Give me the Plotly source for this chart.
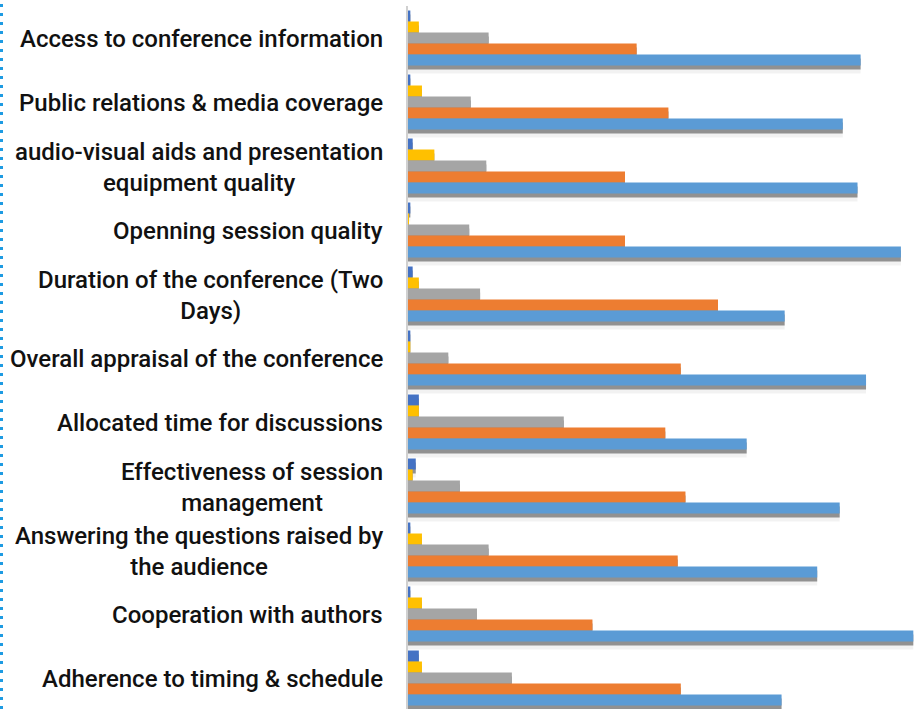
import plotly.graph_objects as go

categories = [
    "Access to conference information",
    "Public relations & media coverage",
    "audio-visual aids and presentation<br>equipment quality",
    "Openning session quality",
    "Duration of the conference (Two<br>Days)",
    "Overall appraisal of the conference",
    "Allocated time for discussions",
    "Effectiveness of session<br>management",
    "Answering the questions raised by<br>the audience",
    "Cooperation with authors",
    "Adherence to timing & schedule",
]

# percentages (top to bottom within each group)
poor      = [0.3, 0.3, 0.6, 0.3, 0.6, 0.3, 1.4, 1.0, 0.3, 0.3, 1.4]
fair      = [1.4, 1.8, 3.4, 0.1, 1.4, 0.3, 1.4, 0.6, 1.8, 1.8, 1.8]
good      = [10.4, 8.1, 10.1, 7.9, 9.3, 5.2, 20.1, 6.7, 10.4, 8.9, 13.4]
very_good = [29.5, 33.6, 28.0, 28.0, 40.0, 35.2, 33.2, 35.8, 34.8, 23.8, 35.2]
excellent = [58.4, 56.1, 58.0, 63.6, 48.6, 59.1, 43.7, 55.7, 52.8, 65.2, 48.2]

series = [
    ("Poor", poor, "#4472C4"),
    ("Fair", fair, "#FFC000"),
    ("Good", good, "#A5A5A5"),
    ("Very good", very_good, "#ED7D31"),
    ("Excellent", excellent, "#5B9BD5"),
]

W, H = 920, 709
ml, mt = 408, 6
plot_w = W - ml
plot_h = H - mt
px_per_cat = 64.0
px_per_pct = 7.75
bar_px = 11.0
bw = bar_px / px_per_cat
n = len(series)

fig = go.Figure()
# soft drop shadows (drawn first, underneath)
for i, (name, vals, color) in enumerate(series):
    off = -n * bw / 2 + i * bw
    fig.add_trace(go.Bar(
        y=categories, x=vals, orientation="h", showlegend=False, hoverinfo="skip",
        width=bw + 7 / px_per_cat, offset=off + 1 / px_per_cat,
        marker=dict(color="rgba(0,0,0,0.05)", line=dict(width=0)),
    ))
    fig.add_trace(go.Bar(
        y=categories, x=vals, orientation="h", showlegend=False, hoverinfo="skip",
        width=bw, offset=off + 4 / px_per_cat,
        marker=dict(color="rgba(80,80,80,0.6)", line=dict(width=0)),
    ))
for i, (name, vals, color) in enumerate(series):
    off = -n * bw / 2 + i * bw
    fig.add_trace(go.Bar(
        y=categories, x=vals, name=name, orientation="h",
        width=bw, offset=off,
        marker=dict(color=color, line=dict(width=0)),
    ))

annotations = [
    dict(text=c, x=-23 / plot_w, xref="paper", y=c, yref="y", yshift=-1,
         xanchor="right", yanchor="middle", align="center", showarrow=False,
         font=dict(family="Roboto", size=24, color="#111111", weight=500))
    for c in categories
]

fig.update_layout(
    width=W, height=H,
    margin=dict(l=ml, r=0, t=mt, b=0, pad=0, autoexpand=False),
    paper_bgcolor="white", plot_bgcolor="white",
    barmode="overlay",
    showlegend=False,
    font=dict(family="Roboto", size=24, color="#111111", weight=500),
    xaxis=dict(range=[0, plot_w / px_per_pct], showgrid=False, zeroline=False,
               showticklabels=False, ticks=""),
    yaxis=dict(range=[-0.5 + plot_h / px_per_cat, -0.5], showgrid=False,
               showline=True, linecolor="#D0D0D0", linewidth=2,
               ticks="", showticklabels=False, categoryorder="array",
               categoryarray=categories),
    annotations=annotations,
    shapes=[dict(type="line", xref="paper", yref="paper", x0=-(ml - 1) / plot_w,
                 x1=-(ml - 1) / plot_w, y0=0, y1=1 + mt / plot_h,
                 line=dict(color="#1E9BE2", width=4, dash="3px,6px"))],
)

fig.write_html("out.html", config={"displayModeBar": False},
               post_script="document.body.style.margin='0';document.body.style.overflow='hidden';")
